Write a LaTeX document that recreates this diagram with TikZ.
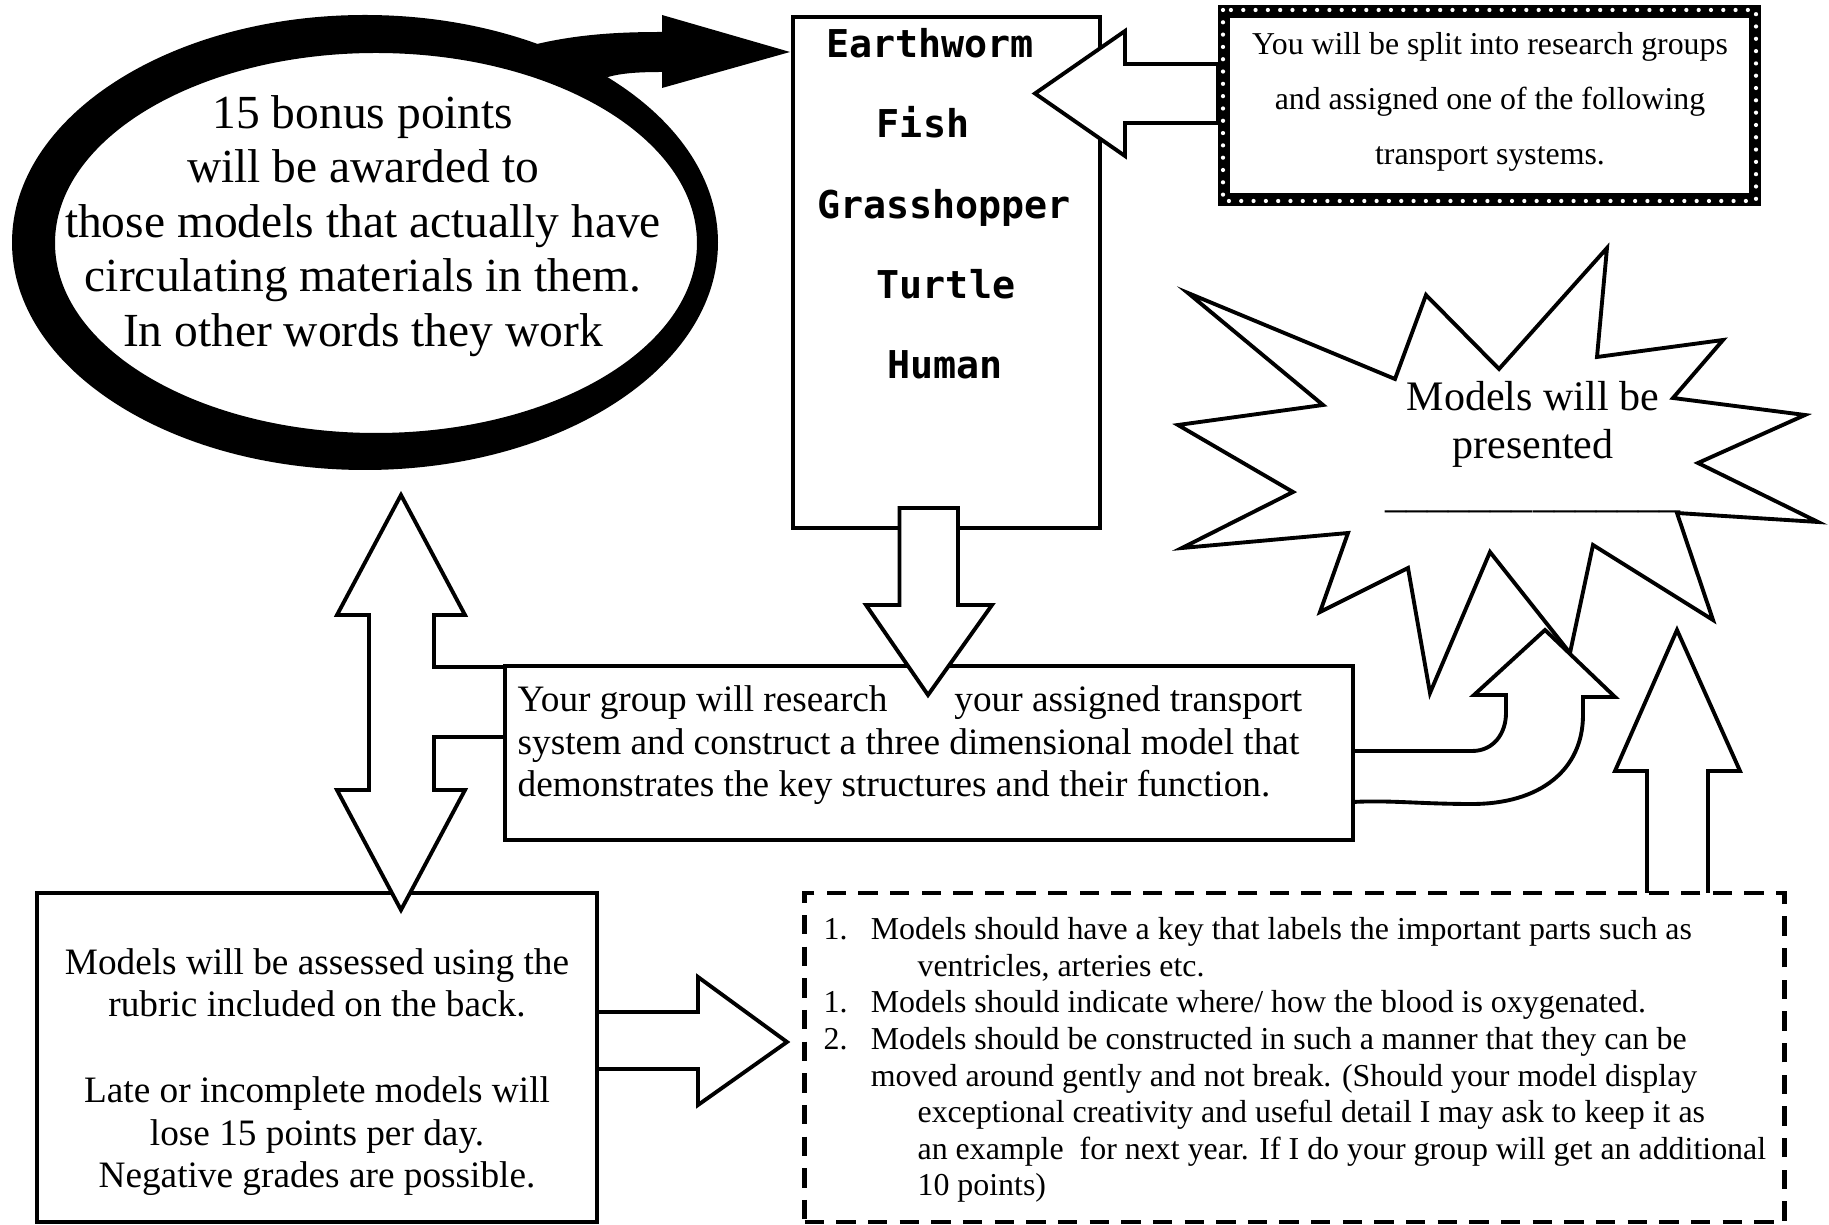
\documentclass[tikz,border=0pt]{standalone}
\usepackage{fontspec}
\setmainfont{Liberation Serif}
\setmonofont{DejaVu Sans Mono}
\usepackage{tikz}
\usetikzlibrary{positioning}

\tikzset{
  plainbox/.style={draw, line width=1.1pt, fill=white, inner sep=0pt},
  dashbox/.style={draw, line width=1.3pt, dash pattern=on 5.5pt off 3.5pt, fill=white, inner sep=0pt},
  dotband/.style={draw, line width=3.6pt, fill=white, inner sep=0pt},
  dotline/.style={draw=white, line width=1.2pt, line cap=round, dash pattern=on 0pt off 3.5pt},
  blockarrow/.style={draw, line width=1.1pt, fill=white, line join=miter},
  ringtext/.style={font=\fontsize{13.5}{15.5}\selectfont, align=center, inner sep=0pt},
  listtext/.style={font=\ttfamily\bfseries\fontsize{10.9}{12}\selectfont, inner sep=0pt, anchor=base},
  smalltext/.style={font=\fontsize{9.05}{15.6}\selectfont, align=center, inner sep=0pt},
  bodytext/.style={font=\fontsize{10.6}{12.1}\selectfont, inner sep=0pt},
  ruletext/.style={font=\fontsize{9.07}{10.4}\selectfont, align=left, inner sep=0pt, anchor=north west},
  bursttext/.style={font=\fontsize{11.95}{13.7}\selectfont, align=center, inner sep=0pt}
}

\begin{document}
\begin{tikzpicture}[x=0.01cm,y=-0.01cm]
      \useasboundingbox (0,0) rectangle (1829,1225);
      \fill[white] (0,0) rectangle (1829,1225);

      % bonus ring with its black arrow
      \fill[even odd rule] (365,242.5) ellipse [x radius=353, y radius=227.5]
                           (376,243) ellipse [x radius=321, y radius=190];
      \fill (537,44) .. controls (580,34) and (620,32) .. (662,32) -- (662,15) -- (790,52)
            -- (662,88) -- (662,72) .. controls (640,72) and (622,73) .. (608,77) -- (575,72) -- cycle;
      \node[ringtext] (bonus) at (363,226) {15 bonus points\\will be awarded to\\those models that actually have\\circulating materials in them.\\In other words they work};

      % transport systems
      \node[plainbox, minimum width=3.07cm, minimum height=5.11cm] (organisms) at (946.5,272.5) {};
      \node[listtext] (worm) at (930,58) {Earthworm};
      \node[listtext] (fish) at (923,138) {Fish};
      \node[listtext] (hopper) at (944,219) {Grasshopper};
      \node[listtext] (turtle) at (946,299) {Turtle};
      \node[listtext] (human) at (945,379) {Human};

      \draw[blockarrow] (1218,64) -- (1125,64) -- (1125,31) -- (1035,93.5) -- (1125,156) -- (1125,123) -- (1218,123) -- cycle;

      % split into groups
      \node[dotband, minimum width=5.304cm, minimum height=1.884cm] (groups) at (1489.5,105.5) {};
      \draw[dotline] (1223,10) rectangle (1756,201);
      \node[smalltext] (split) at (1490,102) {You will be split into research groups\\and assigned one of the following\\transport systems.};

      % assessment
      \node[plainbox, minimum width=5.6cm, minimum height=3.29cm] (assessbox) at (317,1057.5) {};
      \node[bodytext, align=center] (assess) at (317,1072) {Models will be assessed using the\\rubric included on the back.\\[12.4pt]Late or incomplete models will\\lose 15 points per day.\\Negative grades are possible.};

      \draw[blockarrow] (505,667) -- (434,667) -- (434,615) -- (465,615) -- (401,495) -- (337,615)
            -- (369,615) -- (369,790) -- (337,790) -- (401,910) -- (465,790) -- (434,790) -- (434,737) -- (505,737);

      % research task
      \node[plainbox, minimum width=8.48cm, minimum height=1.74cm] (research) at (929,753) {};
      \node[bodytext, align=left, anchor=north west] (task) at (517,685) {Your group will research\hspace{19pt}your assigned transport\\system and construct a three dimensional model that\\demonstrates the key structures and their function.};

      \draw[blockarrow] (899.5,508) -- (899.5,605) -- (866,605) -- (928,695) -- (992,605) -- (958,605) -- (958,508) -- cycle;

      % presentation
      \draw[blockarrow] (1188,293) -- (1395,379) -- (1426,295) -- (1499,369) -- (1607,248) -- (1597,357)
            -- (1723,340) -- (1673,398) -- (1805,415) -- (1698,463) -- (1818,522) -- (1677,513)
            -- (1713,620) -- (1593,545) -- (1570,653) -- (1490,552) -- (1430,693) -- (1408,568)
            -- (1320,612) -- (1348,533) -- (1182,548) -- (1293,492) -- (1178,425) -- (1323,405) -- cycle;
      \node[bursttext] (present) at (1533,447) {Models will be\\presented\\\_\_\_\_\_\_\_\_\_\_\_\_\_\_};

      \draw[blockarrow] (1353,751) -- (1472,751) .. controls (1494,751) and (1506,733) .. (1506,713)
            -- (1506,695) -- (1474,695) -- (1545,630) -- (1615,697) -- (1583,697) -- (1583,715)
            .. controls (1583,770) and (1540,804) .. (1472,804) .. controls (1420,804) and (1390,800) .. (1353,802) -- cycle;

      \draw[blockarrow] (1647,893) -- (1647,771) -- (1615,771) -- (1677,630) -- (1740,771) -- (1708,771) -- (1708,893);

      \draw[blockarrow] (597,1012) -- (698,1012) -- (698,977) -- (787,1042) -- (698,1105) -- (698,1069) -- (597,1069) -- cycle;

      % requirements
      \node[dashbox, minimum width=9.79cm, minimum height=3.29cm] (rulesbox) at (1294.5,1057.5) {};
      \node[ruletext] (rules) at (823,917) {\makebox[13.4pt][l]{1.}Models should have a key that labels the important parts such as\\
        \hspace*{26.7pt}ventricles, arteries etc.\\
        \makebox[13.4pt][l]{1.}Models should indicate where/ how the blood is oxygenated.\\
        \makebox[13.4pt][l]{2.}Models should be constructed in such a manner that they can be\\
        \hspace*{13.4pt}moved around gently and not break. (Should your model display\\
        \hspace*{26.7pt}exceptional creativity and useful detail I may ask to keep it as\\
        \hspace*{26.7pt}an example~ for next year. If I do your group will get an additional\\
        \hspace*{26.7pt}10 points)};

  \end{tikzpicture}
\end{document}
